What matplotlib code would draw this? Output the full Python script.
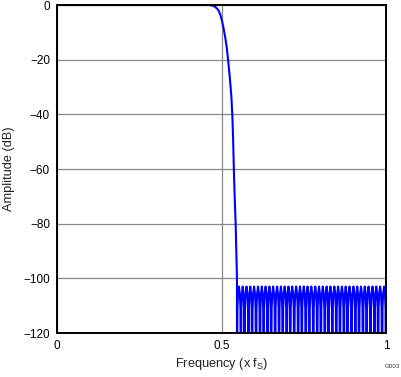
import matplotlib
matplotlib.use("Agg")
from matplotlib import pyplot as plt

plt.rcParams['font.family'] = ['Liberation Sans', 'DejaVu Sans']

# passband + transition band
edge_freq = [0.0, 0.455, 0.466, 0.474, 0.482, 0.49, 0.496, 0.501, 0.506, 0.511,
             0.516, 0.52, 0.526, 0.530, 0.533, 0.5355, 0.5375, 0.540, 0.543,
             0.547]
edge_amp = [0.0, 0.0, -0.05, -0.25, -0.8, -1.8, -3.4, -5.5, -8.3, -11.6,
            -15.6, -20.0, -27.5, -33.5, -40.5, -50.0, -60.0, -70.0, -80.0,
            -100.0]

# stopband: notch positions and lobe peak level
notch_freq = [0.547, 0.559, 0.570, 0.582, 0.593, 0.605, 0.617, 0.628, 0.640,
              0.651, 0.663, 0.675, 0.686, 0.698, 0.709, 0.721, 0.733, 0.744,
              0.756, 0.767, 0.779, 0.791, 0.802, 0.814, 0.825, 0.837, 0.849,
              0.860, 0.872, 0.883, 0.895, 0.907, 0.918, 0.930, 0.941, 0.953,
              0.965, 0.976, 0.988, 1.000]
notch_amp = -140.0
peak_amp = -103.0
# shape of one stopband lobe: position within lobe, level below peak (dB)
lobe_pos = [0.12, 0.25, 0.5, 0.75, 0.88]
lobe_drop = [-8.0, -3.0, 0.0, -3.0, -8.0]

yticks = [0, -20, -40, -60, -80, -100, -120]
xticks = [0, 0.5, 1]

# build the curve
freq = list(edge_freq)
amp = list(edge_amp)
freq.append(notch_freq[0])
amp.append(notch_amp)
for i in range(1, len(notch_freq)):
    a, b = notch_freq[i - 1], notch_freq[i]
    for p, d in zip(lobe_pos, lobe_drop):
        freq.append(a + p * (b - a))
        amp.append(peak_amp + d)
    freq.append(b)
    amp.append(notch_amp)

fig = plt.figure(figsize=(4.02, 3.77), dpi=100)
ax = fig.add_axes([0.1418, 0.1167, 0.8184, 0.87])

ax.plot(freq, amp, color='#0000ff', lw=1.5, clip_on=True)

ax.set_xlim(0, 1)
ax.set_ylim(-120, 0)
ax.set_xticks(xticks)
ax.set_xticklabels(['0', '0.5', '1'])
ax.set_yticks(yticks)
ax.set_yticklabels(['0', '\u221220', '\u221240', '\u221260', '\u221280',
                    '\u2212100', '\u2212120'])
ax.tick_params(length=0, labelsize=8.5, pad=5)
ax.grid(True, color='#888888', lw=0.9)
ax.set_axisbelow(True)
for s in ax.spines.values():
    s.set_linewidth(1.4)

ax.set_xlabel('Frequency (x f$_\\mathregular{S}$)', fontsize=9.2, color='#222222', labelpad=3)
ax.set_ylabel('Amplitude (dB)', fontsize=9.2, color='#222222', labelpad=6)
fig.text(0.995, 0.02, 'G003', fontsize=4.5, ha='right', va='bottom', color='#333333')

fig.savefig('out.png', dpi=100)
